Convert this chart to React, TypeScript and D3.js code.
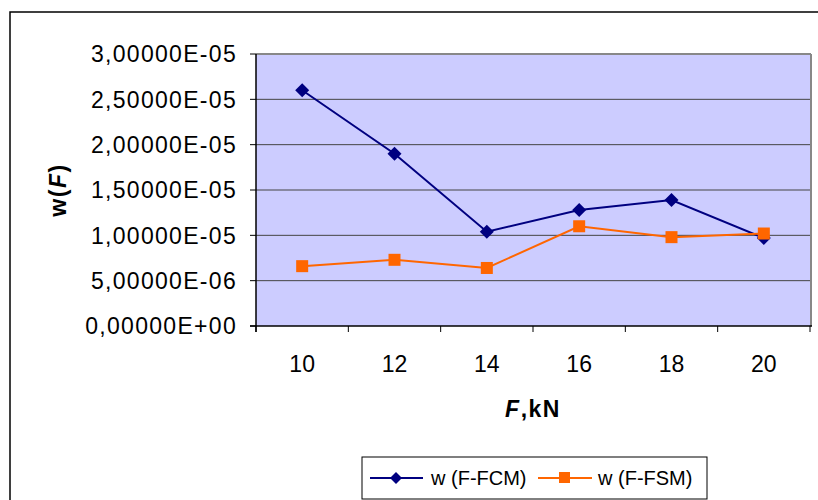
import React from "react";
import * as d3 from "d3";

const categories = ["10", "12", "14", "16", "18", "20"];
const fcm = [2.6e-5, 1.9e-5, 1.04e-5, 1.28e-5, 1.39e-5, 0.97e-5];
const fsm = [6.6e-6, 7.3e-6, 6.4e-6, 1.1e-5, 9.8e-6, 1.02e-5];
const yTicks = [0, 5e-6, 1e-5, 1.5e-5, 2e-5, 2.5e-5, 3e-5];
const yTickLabels = [
  "0,00000E+00",
  "5,00000E-06",
  "1,00000E-05",
  "1,50000E-05",
  "2,00000E-05",
  "2,50000E-05",
  "3,00000E-05",
];
const seriesNames = ["w (F-FCM)", "w (F-FSM)"];

const W = 818, H = 500;
const L = 256, R = 810, T = 54, B = 326;

export default function App() {
  const x = d3.scaleBand().domain(categories).range([L, R]);
  const y = d3.scaleLinear().domain([0, 3e-5]).range([B, T]);
  const cx = (c: string) => (x(c) as number) + x.bandwidth() / 2;
  const line = d3
    .line<number>()
    .x((_, i) => cx(categories[i]))
    .y((d) => y(d));
  const font = "'Liberation Sans', Arial, sans-serif";
  const diamond = (px: number, py: number, r: number) =>
    `M${px},${py - r}L${px + r},${py}L${px},${py + r}L${px - r},${py}Z`;
  const boundaries = [...categories.map((c) => x(c) as number), R];
  return (
    <svg width={W} height={H} style={{ position: "absolute", left: 0, top: 0 }} fontFamily={font}>
      <rect x={0} y={0} width={W} height={H} fill="#fff" />
      <rect x={10} y={12} width={W + 20} height={H + 20} fill="none" stroke="#000" strokeWidth={1.5} />
      <rect x={L} y={T} width={R - L} height={B - T} fill="#CCCCFF" />
      {yTicks.slice(1, -1).map((t) => (
        <line key={t} x1={L} x2={R} y1={y(t)} y2={y(t)} stroke="#444" strokeWidth={1} />
      ))}
      <line x1={L} x2={R + 1} y1={T} y2={T} stroke="#888" strokeWidth={2} />
      <line x1={R + 1} x2={R + 1} y1={T} y2={B} stroke="#888" strokeWidth={2} />
      <line x1={L} x2={L} y1={T} y2={B + 6} stroke="#000" strokeWidth={1.5} />
      <line x1={L - 6} x2={R + 2} y1={B} y2={B} stroke="#000" strokeWidth={1.5} />
      {yTicks.map((t, i) => (
        <g key={t}>
          <line x1={L - 6} x2={L} y1={y(t)} y2={y(t)} stroke="#000" strokeWidth={1} />
          <text x={237} y={y(t)} dy="0.36em" textAnchor="end" fontSize={23} letterSpacing={1.3}>
            {yTickLabels[i]}
          </text>
        </g>
      ))}
      {boundaries.map((b, i) => (
        <line key={i} x1={b} x2={b} y1={B} y2={B + 6} stroke="#000" strokeWidth={1} />
      ))}
      {categories.map((c) => (
        <text key={c} x={cx(c)} y={372} textAnchor="middle" fontSize={23}>
          {c}
        </text>
      ))}
      <path d={line(fcm) || ""} fill="none" stroke="#000080" strokeWidth={2} />
      <path d={line(fsm) || ""} fill="none" stroke="#FF6600" strokeWidth={2} />
      {fcm.map((v, i) => (
        <path key={i} d={diamond(cx(categories[i]), y(v), 7)} fill="#000080" />
      ))}
      {fsm.map((v, i) => (
        <rect key={i} x={cx(categories[i]) - 6} y={y(v) - 6} width={12} height={12} fill="#FF6600" />
      ))}
      <text
        transform={`translate(66,${(T + B) / 2}) rotate(-90)`}
        textAnchor="middle"
        fontSize={23}
        fontWeight="bold"
        letterSpacing={1.5}
      >
        w(<tspan fontStyle="italic">F</tspan>)
      </text>
      <text x={(L + R) / 2} y={417} textAnchor="middle" fontSize={23} fontWeight="bold" letterSpacing={1.5}>
        <tspan fontStyle="italic">F</tspan>,kN
      </text>
      <rect x={362} y={457} width={345} height={42} fill="#fff" stroke="#000" strokeWidth={1} />
      <line x1={370} x2={423} y1={478} y2={478} stroke="#000080" strokeWidth={2} />
      <path d={diamond(396, 478, 6)} fill="#000080" />
      <text x={431} y={478} dy="0.36em" fontSize={20}>
        {seriesNames[0]}
      </text>
      <line x1={538} x2={592} y1={478} y2={478} stroke="#FF6600" strokeWidth={2} />
      <rect x={559} y={472} width={11} height={11} fill="#FF6600" />
      <text x={598} y={478} dy="0.36em" fontSize={20}>
        {seriesNames[1]}
      </text>
    </svg>
  );
}
